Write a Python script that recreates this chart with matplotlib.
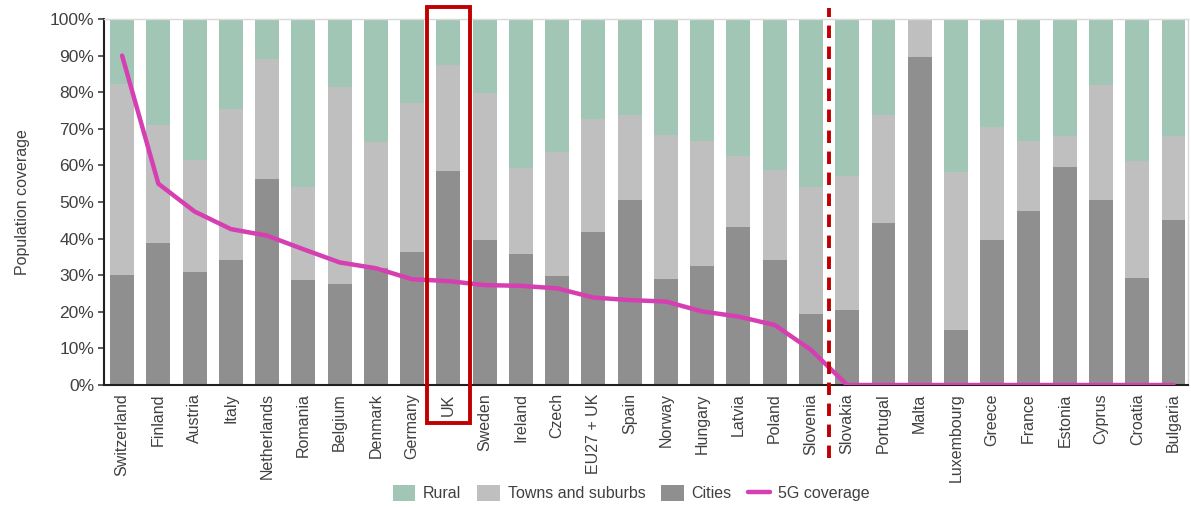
import numpy as np
import matplotlib.pyplot as plt
from matplotlib.patches import Rectangle
from matplotlib.transforms import blended_transform_factory


# countries in the order they appear (sorted by 5G coverage)
countries = [
    "Switzerland", "Finland", "Austria", "Italy", "Netherlands", "Romania",
    "Belgium", "Denmark", "Germany", "UK", "Sweden", "Ireland", "Czech",
    "EU27 + UK", "Spain", "Norway", "Hungary", "Latvia", "Poland", "Slovenia",
    "Slovakia", "Portugal", "Malta", "Luxembourg", "Greece", "France",
    "Estonia", "Cyprus", "Croatia", "Bulgaria",
]

# population share by settlement type (%)
cities = [
    30.1, 38.7, 31.0, 34.2, 56.2, 28.7, 27.6, 32.0, 36.3, 58.5,
    39.7, 35.8, 29.8, 41.8, 50.6, 28.9, 32.6, 43.1, 34.2, 19.3,
    20.5, 44.4, 89.6, 14.9, 39.5, 47.6, 59.7, 50.5, 29.2, 45.2,
]
towns = [
    52.2, 32.4, 30.5, 41.2, 32.9, 25.5, 53.8, 34.5, 40.7, 29.0,
    40.2, 23.5, 33.9, 30.9, 23.2, 39.5, 34.2, 19.5, 24.6, 34.9,
    36.7, 29.3, 10.4, 43.4, 31.1, 19.2, 8.3, 31.5, 31.9, 22.8,
]
rural = [
    17.7, 28.9, 38.5, 24.6, 10.9, 45.8, 18.6, 33.5, 23.0, 12.5,
    20.1, 40.7, 36.3, 27.3, 26.2, 31.6, 33.2, 37.4, 41.2, 45.8,
    42.8, 26.3, 0.0, 41.7, 29.4, 33.2, 32.0, 18.0, 38.9, 32.0,
]

# 5G population coverage (%)
coverage_5g = [
    90.0, 55.0, 47.4, 42.6, 40.8, 37.1, 33.5, 31.9, 28.9, 28.4,
    27.3, 27.1, 26.4, 23.9, 23.2, 22.8, 20.1, 18.7, 16.4, 9.6,
    0, 0, 0, 0, 0, 0, 0, 0, 0, 0,
]

highlight = "UK"
split_after = "Slovenia"

# colours
c_rural = "#A2C6B5"
c_towns = "#BFBFBF"
c_cities = "#8F8F8F"
c_line = "#D63FB1"
c_red = "#C00000"

plt.rcParams["font.family"] = ["Liberation Sans", "DejaVu Sans"]

fig = plt.figure(figsize=(11.91, 5.07), dpi=100)
ax = fig.add_axes([0.0873, 0.2406, 0.9102, 0.7219])

x = np.arange(len(countries))
cities = np.array(cities)
towns = np.array(towns)
rural = np.array(rural)
w = 0.66

ax.bar(x, cities, w, color=c_cities, label="Cities", zorder=2)
ax.bar(x, towns, w, bottom=cities, color=c_towns, label="Towns and suburbs", zorder=2)
ax.bar(x, rural, w, bottom=cities + towns, color=c_rural, label="Rural", zorder=2)
ax.plot(x, coverage_5g, color=c_line, lw=3.2, label="5G coverage", zorder=4,
        solid_capstyle="round", solid_joinstyle="round")

ax.set_xlim(-0.5, 29.4)
ax.set_ylim(0, 100)
ax.set_yticks(np.arange(0, 101, 10))
ax.set_yticklabels([f"{v}%" for v in range(0, 101, 10)], fontsize=12.5, color="#404040")
ax.set_xticks(x)
ax.set_xticklabels(countries, rotation=90, fontsize=11.5, color="#404040")
ax.tick_params(axis="x", length=0, pad=6)
ax.tick_params(axis="y", length=4, width=1.2, color="#404040", pad=3)
ax.set_ylabel("Population coverage", fontsize=11.5, color="#404040", labelpad=14)

for s in ["top", "right"]:
    ax.spines[s].set_color("#D9D9D9")
    ax.spines[s].set_linewidth(1)
ax.spines["left"].set_color("#202020")
ax.spines["bottom"].set_color("#202020")
ax.spines["left"].set_linewidth(1.5)
ax.spines["bottom"].set_linewidth(1.5)

# frame around the highlighted country and separator line
trans = blended_transform_factory(ax.transData, ax.transAxes)
i_hl = countries.index(highlight)
ax.add_patch(Rectangle((i_hl - 0.59, -0.104), 1.18, 1.137, transform=trans,
                       fill=False, edgecolor=c_red, lw=2.8, clip_on=False, zorder=6))
i_sp = countries.index(split_after) + 0.5
ax.plot([i_sp, i_sp], [-0.2, 1.03], transform=trans, color=c_red, lw=2.8,
        ls=(0, (3.2, 2.2)), clip_on=False, zorder=6)

# legend in the order used by the source chart
h, l = ax.get_legend_handles_labels()
order = ["Rural", "Towns and suburbs", "Cities", "5G coverage"]
handles = [h[l.index(o)] for o in order]
fig.legend(handles, order, loc="center", bbox_to_anchor=(0.530, 0.027), ncol=4,
           frameon=False, fontsize=11.5, handlelength=1.4, handleheight=1.1,
           columnspacing=1.0, handletextpad=0.5, labelcolor="#404040")

fig.savefig("out.png", dpi=100)
